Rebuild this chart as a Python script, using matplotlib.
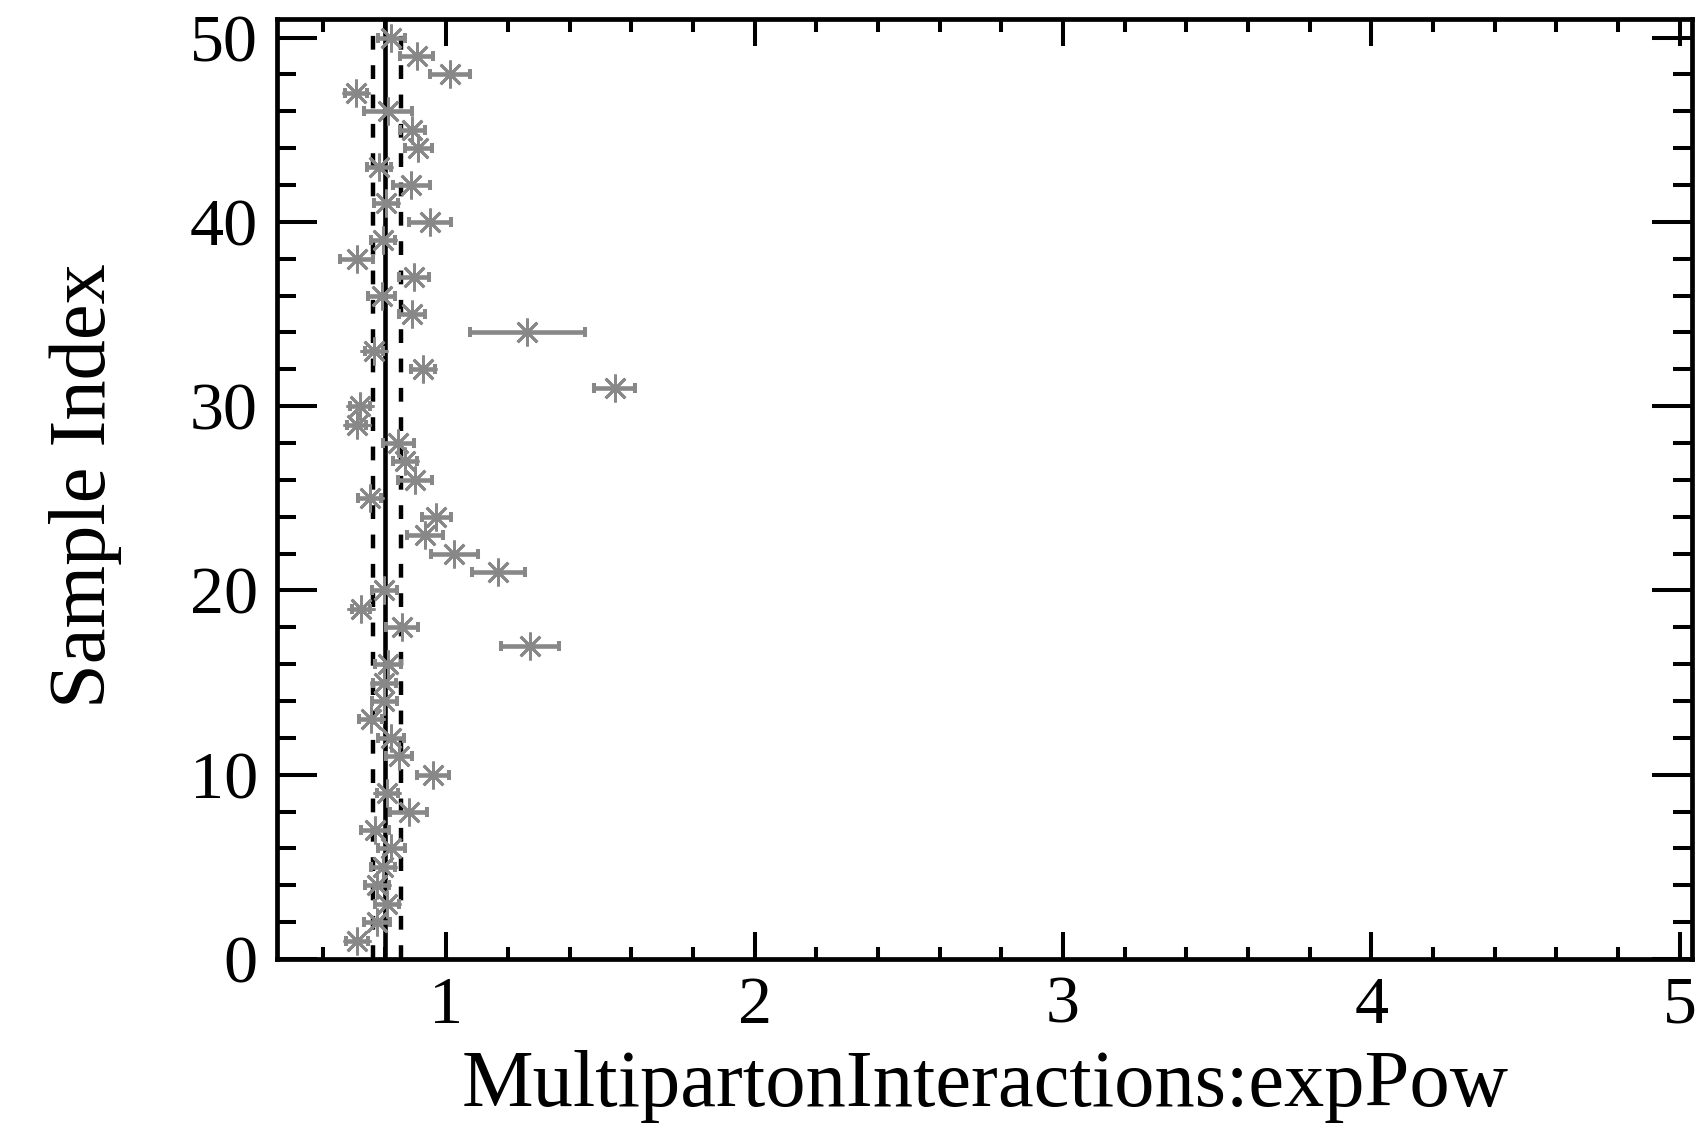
import matplotlib
matplotlib.use("Agg")
import matplotlib.pyplot as plt
from matplotlib.ticker import MultipleLocator

# Fitted expPow value per sample, with its uncertainty
sample_index = list(range(1, 51))
exp_pow = [0.710, 0.775, 0.807, 0.775, 0.795, 0.822, 0.769, 0.879, 0.809, 0.957,
           0.847, 0.820, 0.755, 0.799, 0.799, 0.811, 1.271, 0.858, 0.725, 0.799,
           1.169, 1.026, 0.931, 0.968, 0.752, 0.898, 0.866, 0.845, 0.709, 0.721,
           1.546, 0.924, 0.766, 1.263, 0.889, 0.791, 0.896, 0.709, 0.795, 0.947,
           0.806, 0.887, 0.782, 0.910, 0.890, 0.811, 0.708, 1.012, 0.904, 0.822]
exp_pow_err = [0.036, 0.042, 0.039, 0.038, 0.038, 0.044, 0.044, 0.060, 0.033, 0.051,
               0.042, 0.042, 0.037, 0.041, 0.038, 0.042, 0.094, 0.052, 0.029, 0.040,
               0.085, 0.077, 0.059, 0.046, 0.037, 0.056, 0.038, 0.051, 0.032, 0.033,
               0.067, 0.038, 0.030, 0.186, 0.042, 0.044, 0.049, 0.052, 0.040, 0.067,
               0.039, 0.060, 0.039, 0.044, 0.040, 0.079, 0.036, 0.064, 0.054, 0.044]

# Combined value (solid) and its band (dashed)
combined = 0.803
band = [0.762, 0.852]

x_range = (0.452, 5.042)
y_range = (0, 51)

plt.rcParams["font.family"] = ["Liberation Serif", "DejaVu Serif"]

fig = plt.figure(figsize=(17.01, 11.29), dpi=100)
ax = fig.add_axes([0.163, 0.1506, 0.832, 0.8325])

grey = "#888888"
ax.errorbar(exp_pow, sample_index, xerr=exp_pow_err, fmt="none",
            ecolor=grey, elinewidth=3.3, capsize=3.6, capthick=2.9, zorder=3)
ax.plot(exp_pow, sample_index, linestyle="none", marker=(8, 2, 0),
        markersize=20, markeredgewidth=2.0, color=grey, zorder=4)

ax.axvline(combined, color="black", linewidth=3.3, zorder=2)
for b in band:
    ax.axvline(b, color="black", linewidth=3.2, dashes=(3.1, 3.5), zorder=2)

ax.set_xlim(*x_range)
ax.set_ylim(*y_range)

ax.xaxis.set_major_locator(MultipleLocator(1))
ax.xaxis.set_minor_locator(MultipleLocator(0.2))
ax.yaxis.set_major_locator(MultipleLocator(10))
ax.yaxis.set_minor_locator(MultipleLocator(2))

for s in ax.spines.values():
    s.set_linewidth(3.4)

ax.tick_params(axis="both", which="both", direction="in", top=True, right=True,
               width=2.9, labelsize=49)
ax.tick_params(axis="x", which="major", length=19.4, pad=12)
ax.tick_params(axis="x", which="minor", length=9)
ax.tick_params(axis="y", which="major", length=28.8, pad=14)
ax.tick_params(axis="y", which="minor", length=13.7)

fig.text(0.579, 0.020, "MultipartonInteractions:expPow", ha="center",
         va="baseline", fontsize=58)
fig.text(0.029, 0.570, "Sample Index", ha="left", va="center",
         rotation=90, fontsize=58)

fig.savefig("out.png", dpi=100)
